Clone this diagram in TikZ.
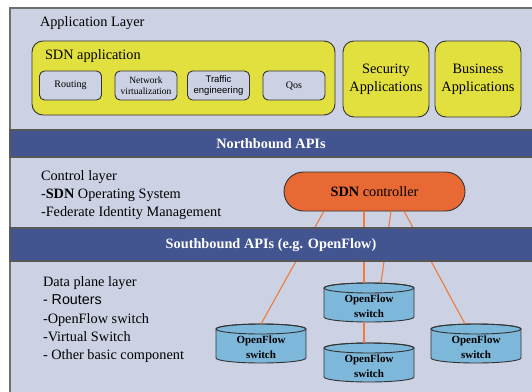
\documentclass[tikz,border=0pt]{standalone}
\usepackage{fontspec}
\setmainfont{Liberation Serif}
\newfontfamily\arialfam{Liberation Sans}
\usetikzlibrary{shapes.misc}

\definecolor{panelbg}{HTML}{CCD2E4}
\definecolor{panelrim}{HTML}{6E6E6E}
\definecolor{bandblue}{HTML}{425591}
\definecolor{appyellow}{HTML}{E2E03E}
\definecolor{ctrlorange}{HTML}{E96935}
\definecolor{linkorange}{HTML}{EF7A3C}
\definecolor{cylblue}{HTML}{7DB7DA}
\definecolor{boxline}{HTML}{333333}

% OpenFlow switch drawn as a cylinder: #1 name, #2 centre x, #3 top y
\newcommand\ofswitch[3]{%
  \filldraw[cyl] (#2-45,#3+5) -- (#2-45,#3+34)
    arc[start angle=180,end angle=360,x radius=45pt,y radius=5pt]
    -- (#2+45,#3+5)
    arc[start angle=0,end angle=180,x radius=45pt,y radius=5pt] -- cycle;
  \draw[cylrim] (#2,#3+5) ellipse[x radius=45pt,y radius=5pt];
  \node[swtext] (#1) at (#2,#3+23) {OpenFlow\\switch};
  \coordinate (#1-top) at (#2,#3);
  \coordinate (#1-bot) at (#2,#3+39);
}

\begin{document}
\begin{tikzpicture}[x=1pt,y=-1pt,
  lbl/.style={inner sep=0pt, outer sep=0pt, font=\fontsize{14.3}{18}\selectfont},
  appbox/.style={draw=boxline, line width=0.9pt, fill=appyellow, rounded corners=11pt,
    inner sep=0pt, outer sep=0pt, align=center, font=\fontsize{14.3}{18}\selectfont},
  funcbox/.style={draw=boxline, line width=0.9pt, fill=panelbg, rounded corners=5pt,
    minimum width=62pt, minimum height=29pt, inner sep=0pt, outer sep=0pt, align=center},
  band/.style={fill=bandblue, draw=panelrim!80!black, line width=1.2pt},
  bandtext/.style={text=white, font=\fontsize{14.3}{18}\selectfont\bfseries, inner sep=0pt},
  ctrlbox/.style={rounded rectangle, draw=boxline, line width=0.9pt, fill=ctrlorange,
    minimum width=181pt, minimum height=39pt, inner sep=0pt, outer sep=0pt,
    font=\fontsize{14.3}{18}\selectfont},
  cyl/.style={fill=cylblue, draw=boxline, line width=0.9pt},
  cylrim/.style={draw=boxline, line width=0.9pt},
  swtext/.style={align=center, inner sep=0pt, font=\fontsize{11}{15}\selectfont\bfseries},
  link/.style={draw=linkorange, line width=1.1pt},
]
\useasboundingbox (0,0) rectangle (532,391);
\clip (0,0) rectangle (532,391);
\fill[white] (0,0) rectangle (532,391);

% layer panel
\draw[fill=panelbg, draw=panelrim, line width=1.5pt] (10,8) rectangle (545,405);

% application layer
\node[lbl, anchor=base west] (applayer) at (40,26) {Application Layer};
\node[appbox, minimum width=303pt, minimum height=74pt] (sdnapp) at (183.5,78) {};
\node[lbl, anchor=base west] (sdnapptitle) at (45,59) {SDN application};
\node[funcbox, font=\fontsize{10}{12}\selectfont] (routing) at (70.5,85.5) {Routing};
\node[funcbox, font=\fontsize{9.5}{11}\selectfont] (netvirt) at (146,85.5) {Network\\virtualization};
\node[funcbox, font=\fontsize{9.5}{11}\selectfont\arialfam] (traffic) at (218.5,85.5) {Traffic\\engineering};
\node[funcbox, font=\fontsize{10}{12}\selectfont] (qos) at (294,85.5) {Qos};
\node[appbox, minimum width=86pt, minimum height=76pt] (secapp) at (386,79) {Security\\Applications};
\node[appbox, minimum width=86pt, minimum height=76pt] (busapp) at (478,79) {Business\\Applications};

% control layer
\node[lbl, anchor=base west] (ctl1) at (41,180) {Control layer};
\node[lbl, anchor=base west] (ctl2) at (41,198) {-\textbf{SDN} Operating System};
\node[lbl, anchor=base west] (ctl3) at (41,216) {-Federate Identity Management};
\node[ctrlbox] (ctrl) at (374.5,191.5) {\textbf{SDN} controller};

% data plane layer
\node[lbl, anchor=base west] (dp1) at (43,286) {Data plane layer};
\node[lbl, anchor=base west, font=\fontsize{14.3}{18}\selectfont\arialfam] (dp2) at (43,304.5) {- Routers};
\node[lbl, anchor=base west] (dp3) at (43,323) {-OpenFlow switch};
\node[lbl, anchor=base west] (dp4) at (43,341) {-Virtual Switch};
\node[lbl, anchor=base west] (dp5) at (43,359) {- Other basic component};

\ofswitch{swl}{261}{324}
\ofswitch{swm}{369}{283}
\ofswitch{swb}{369}{343}
\ofswitch{swr}{476}{324}

% controller-to-switch links
\draw[link] ([xshift=-50.5pt]ctrl.south) -- (swl-top);
\draw[link] ([xshift=-10.5pt]ctrl.south) -- ([xshift=-5pt]swm-top);
\draw[link] ([xshift=16.5pt]ctrl.south) -- ([xshift=12pt]swm-top);
\draw[link] ([xshift=29.5pt]ctrl.south) -- ([xshift=-11pt]swr-top);
\draw[link] ([xshift=-5pt]swm-bot) -- ([xshift=-5pt]swb-top);

% API bands
\draw[band] (10,130) rectangle (545,157);
\node[bandtext] (north) at (271,143.5) {Northbound APIs};
\draw[band] (10,228) rectangle (545,261);
\node[bandtext] (south) at (271,245) {Southbound APIs (e.g. OpenFlow)};
\end{tikzpicture}
\end{document}
